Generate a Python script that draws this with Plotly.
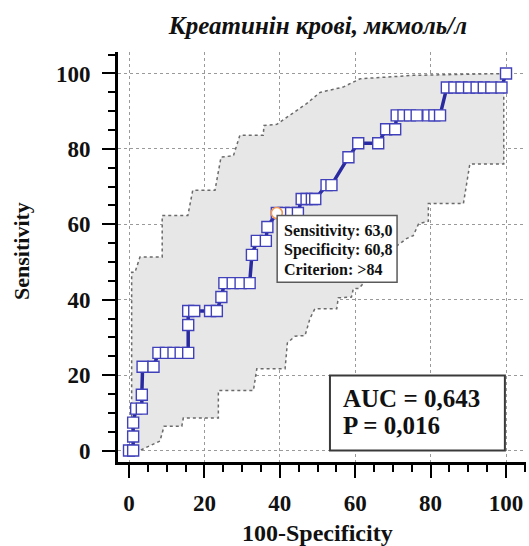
import plotly.graph_objects as go

# ROC curve points: 100-Specificity (x) vs Sensitivity (y)
roc_fpr = [0, 1.1, 1.1, 1.1, 1.9, 3.4, 3.4, 3.6, 6.5, 7.8, 9.8, 11.8, 13.7, 15.7,
           15.7, 15.7, 17.3, 21.5, 23.3, 24.5, 25.3, 27.5, 29.6, 32.0, 32.6, 33.9,
           36.3, 36.7, 39.2, 41.0, 43.0, 44.8, 45.8, 47.1, 48.5, 49.4, 52.4, 53.7,
           58.2, 60.8, 66.1, 68.2, 70.6, 71.0, 72.8, 74.5, 76.3, 79.4, 81.0, 82.5,
           84.3, 86.3, 88.2, 90.2, 92.2, 94.1, 96.1, 98.8, 100]
roc_sens = [0, 0, 3.7, 7.4, 11.1, 11.1, 14.8, 22.2, 22.2, 25.9, 25.9, 25.9, 25.9, 25.9,
            33.3, 37.0, 37.0, 37.0, 37.0, 40.7, 44.4, 44.4, 44.4, 44.4, 51.9, 55.6,
            55.6, 59.3, 63.0, 63.0, 63.0, 63.0, 66.7, 66.7, 66.7, 66.7, 70.4, 70.4,
            77.8, 81.5, 81.5, 85.2, 85.2, 88.9, 88.9, 88.9, 88.9, 88.9, 88.9, 88.9,
            96.3, 96.3, 96.3, 96.3, 96.3, 96.3, 96.3, 96.3, 100]

# 95% confidence bounds
upper_x = [0, 0.7, 0.7, 1.6, 2.9, 8.8, 8.8, 15.6, 16.9, 22.8, 24.4, 27.2, 27.7, 29.4,
           35.6, 35.8, 39.2, 43.2, 47.1, 50.7, 56.8, 61.3, 75.4, 100]
upper_y = [0, 0, 47.3, 47.3, 51.3, 51.3, 62.3, 62.3, 69.0, 69.0, 77.8, 78.2, 78.2, 83.6,
           83.6, 86.2, 86.5, 89.3, 92.0, 95.0, 96.4, 98.6, 99.5, 100]
lower_x = [0, 2.9, 5.6, 8.2, 9.3, 14.0, 14.4, 23.7, 23.7, 33.0, 33.9, 41.4, 42.0, 44.0,
           46.7, 48.0, 49.3, 55.1, 55.5, 59.0, 59.5, 61.0, 64.0, 67.0, 70.0, 73.6, 75.4,
           76.8, 79.4, 79.4, 88.7, 90.4, 99.4, 99.4, 100]
lower_y = [0, 0, 1.3, 2.5, 6.4, 6.4, 8.6, 8.6, 15.9, 15.9, 21.7, 21.7, 28.5, 30.3,
           30.5, 35.0, 37.6, 37.6, 40.5, 40.7, 42.9, 43.0, 46.5, 50.0, 53.5, 56.2, 57.0,
           60.1, 60.8, 65.5, 65.5, 76.0, 76.0, 99.5, 100]

# Optimal cut-off
opt_fpr = 100 - 60.8
opt_sens = 63.0
criterion = ">84"
auc_text = "0,643"
p_text = "0,016"

tick_vals = [0, 20, 40, 60, 80, 100]
tick_text = ["0", "20", "40", "60", "80", "100"]

SERIF = "Liberation Serif, Times New Roman, serif"

fig = go.Figure()

# Confidence band fill
fig.add_trace(go.Scatter(
    x=upper_x + lower_x[::-1], y=upper_y + lower_y[::-1],
    fill="toself", fillcolor="#e7e7e7", mode="none", hoverinfo="skip",
    showlegend=False))
for bx, by in ((upper_x, upper_y), (lower_x, lower_y)):
    fig.add_trace(go.Scatter(
        x=bx, y=by, mode="lines",
        line=dict(color="#6a6a6a", width=1.5, dash="3px,3px"),
        hoverinfo="skip", showlegend=False))

# ROC curve
fig.add_trace(go.Scatter(
    x=roc_fpr, y=roc_sens, mode="lines+markers",
    line=dict(color="#2a2aa0", width=3.5),
    marker=dict(symbol="square", size=11, color="white",
                line=dict(color="#4040bb", width=1.4)),
    showlegend=False))

# Optimal criterion marker
fig.add_trace(go.Scatter(
    x=[opt_fpr], y=[opt_sens], mode="markers",
    marker=dict(symbol="circle", size=11, color="white",
                line=dict(color="#f29a55", width=1.6)),
    showlegend=False))

axis_common = dict(
    tickvals=tick_vals, ticktext=tick_text,
    showline=True, linecolor="black", linewidth=3,
    ticks="outside", ticklen=13, tickwidth=2, tickcolor="black",
    tickfont=dict(family=SERIF, size=23, color="#111", weight="bold"),
    showgrid=True, gridcolor="#9a9a9a", gridwidth=1, griddash="dot",
    zeroline=False,
    minor=dict(dtick=5, ticks="outside", ticklen=7, tickwidth=2,
               tickcolor="black", showgrid=False),
)

fig.update_xaxes(range=[-2.92, 105.3], ticklabelstandoff=5, **axis_common)
fig.update_yaxes(range=[-3.05, 105.7], ticklabelstandoff=7, **axis_common)

# Info box for the optimal point
fig.add_shape(type="rect", x0=39.3, x1=71.1, y0=44.6, y1=62.3,
              line=dict(color="#5a5a5a", width=1.5), fillcolor="white",
              layer="above")
info_lines = [f"Sensitivity: {opt_sens:.1f}".replace(".", ","),
              f"Specificity: {100 - opt_fpr:.1f}".replace(".", ","),
              f"Criterion: {criterion}"]
for txt, yy in zip(info_lines, [58.1, 53.1, 48.0]):
    fig.add_annotation(x=40.5, y=yy, xref="x", yref="y", text=txt,
                       showarrow=False, xanchor="left", yanchor="middle",
                       font=dict(family=SERIF, size=16, color="#111", weight="bold"))

# AUC box
fig.add_shape(type="rect", x0=53.3, x1=99.7, y0=0, y1=19.9,
              line=dict(color="#3a3a3a", width=2), fillcolor="white",
              layer="above")
fig.add_annotation(x=56.2, y=13.8, xref="x", yref="y", text=f"AUC = {auc_text}",
                   showarrow=False, xanchor="left", yanchor="middle",
                   font=dict(family=SERIF, size=25, color="#111", weight="bold"))
fig.add_annotation(x=56.2, y=6.6, xref="x", yref="y", text=f"P = {p_text}",
                   showarrow=False, xanchor="left", yanchor="middle",
                   font=dict(family=SERIF, size=25, color="#111", weight="bold"))

# Axis titles
fig.add_annotation(x=-0.235, y=0.515, xref="paper", yref="paper", text="Sensitivity",
                   textangle=-90, showarrow=False, xanchor="center", yanchor="middle",
                   font=dict(family=SERIF, size=22, color="#111", weight="bold"))
fig.add_annotation(x=0.488, y=-0.174, xref="paper", yref="paper", text="100-Specificity",
                   showarrow=False, xanchor="center", yanchor="middle",
                   font=dict(family=SERIF, size=24, color="#111", weight="bold"))

fig.update_layout(
    width=529, height=546,
    margin=dict(l=118, r=3, t=52, b=84),
    paper_bgcolor="white", plot_bgcolor="white",
    title=dict(text="Креатинін крові, мкмоль/л", x=0.601, xref="container",
               xanchor="center", y=0.954, yref="container", yanchor="middle",
               font=dict(family=SERIF, size=25, color="#111", weight="bold",
                         style="italic")),
)

fig.write_html("out.html")
